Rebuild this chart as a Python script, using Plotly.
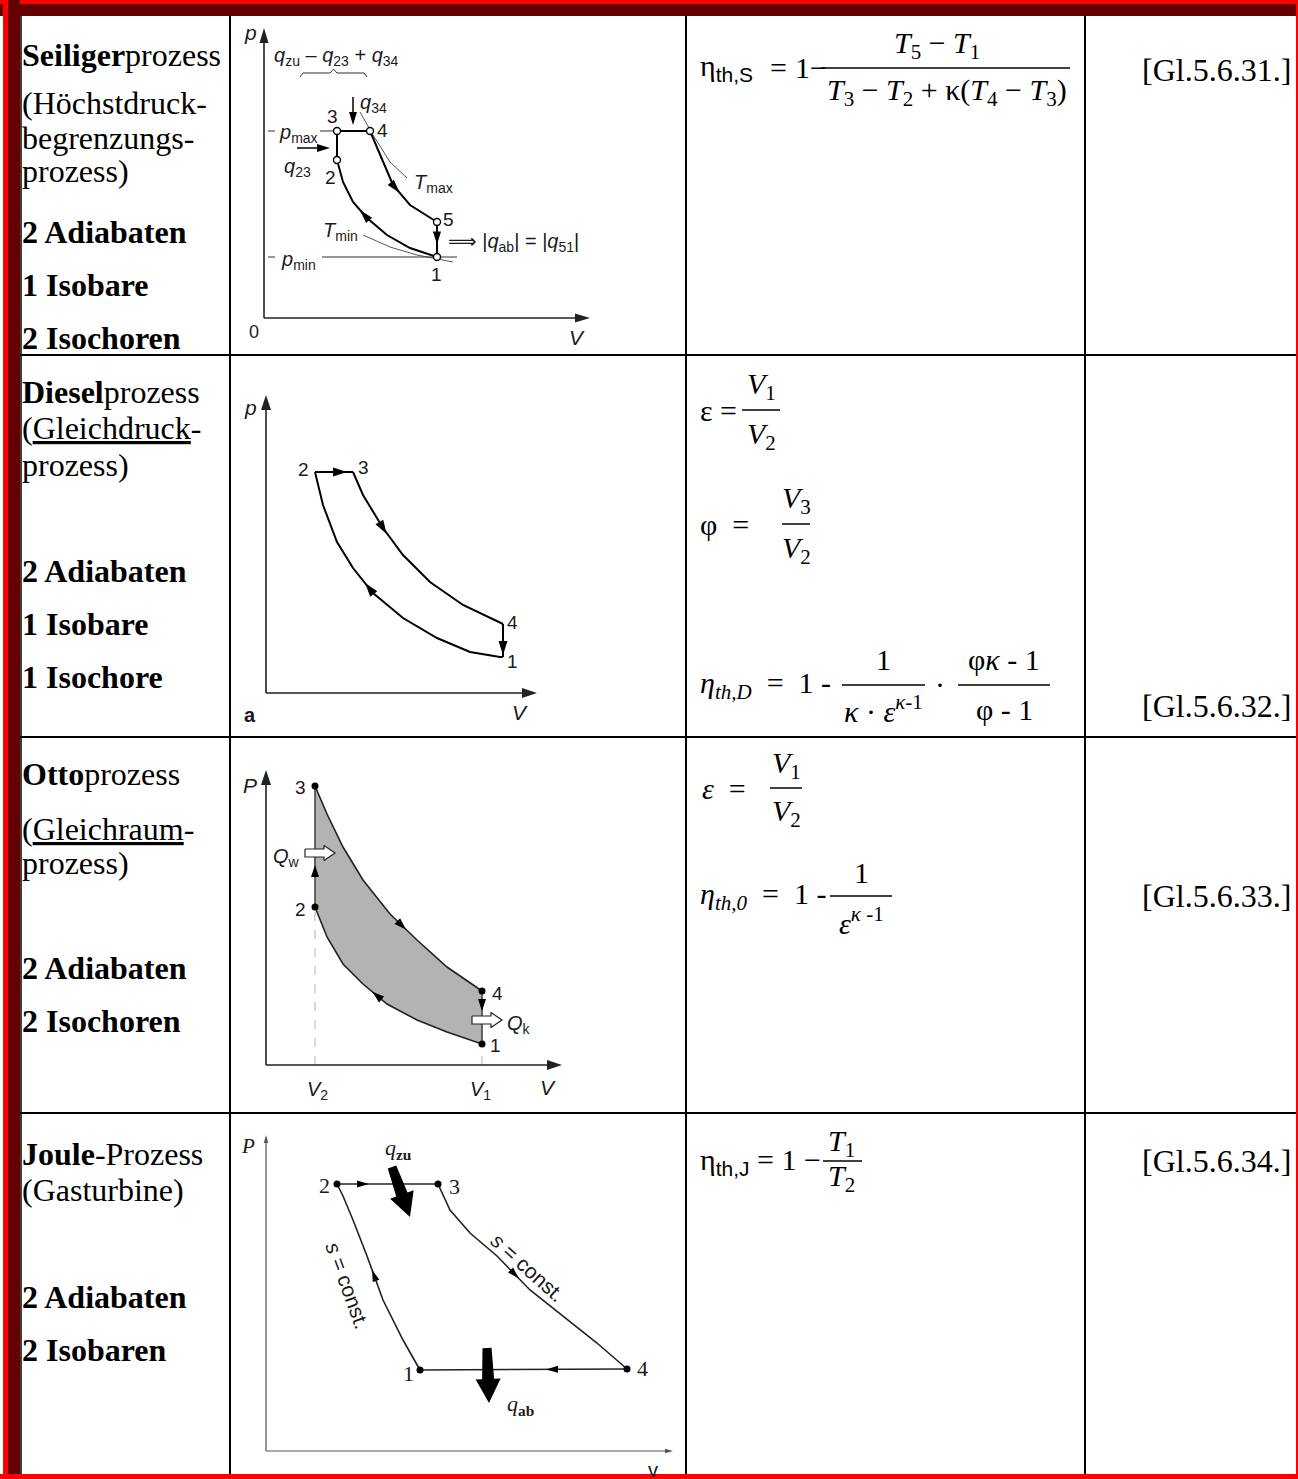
import math
import plotly.graph_objects as go

W, H = 1298, 1479
UNIT = 10.0  # pixels per diagram unit (same on V and p)
SERIF = "Liberation Serif, Times New Roman, serif"
SANS = "Liberation Sans, Arial, DejaVu Sans, sans-serif"

# ---------------- data (diagram units) ----------------
# Seiliger process
SEI_AXIS_TIPS = [32.6, 29.0]                       # V tip, p tip
SEI_STATE_LABELS = ["1", "2", "3", "4", "5"]
SEI_STATE_V = [17.3, 7.3, 7.3, 10.6, 17.3]
SEI_STATE_P = [6.1, 15.8, 18.7, 18.7, 9.6]
SEI_EXP_V = [10.6, 11.6, 12.9, 14.6, 17.3]          # 4 -> 5
SEI_EXP_P = [18.7, 16.3, 13.3, 11.3, 9.6]
SEI_CMP_V = [17.3, 14.6, 12.3, 10.3, 8.9, 7.9, 7.3]  # 1 -> 2
SEI_CMP_P = [6.1, 7.0, 8.3, 10.0, 11.6, 13.6, 15.8]
SEI_TMAX_V = [9.6, 10.9, 12.6, 14.3]
SEI_TMAX_P = [20.6, 18.3, 15.6, 14.0]
SEI_TMIN_V = [9.9, 12.6, 15.3, 18.9]
SEI_TMIN_P = [8.3, 7.1, 6.3, 5.6]

# Diesel process
DIE_AXIS_TIPS = [27.1, 29.8]
DIE_STATE_LABELS = ["1", "2", "3", "4"]
DIE_STATE_V = [23.7, 4.9, 8.7, 23.7]
DIE_STATE_P = [3.6, 22.1, 22.1, 6.9]
DIE_EXP_V = [8.7, 9.7, 11.7, 13.7, 16.4, 19.7, 23.7]  # 3 -> 4
DIE_EXP_P = [22.1, 19.8, 16.5, 13.8, 11.1, 8.8, 6.9]
DIE_CMP_V = [23.7, 23.4, 20.4, 17.1, 13.7, 10.7, 8.7, 7.1, 5.7, 4.9]  # 1 -> 2
DIE_CMP_P = [3.6, 3.6, 4.1, 5.5, 7.5, 10.0, 12.5, 15.1, 18.8, 22.1]

# Otto process
OTTO_AXIS_TIPS = [29.6, 29.5]
OTTO_STATE_LABELS = ["1", "2", "3", "4"]
OTTO_STATE_V = [21.6, 4.9, 4.9, 21.6]
OTTO_STATE_P = [2.1, 15.8, 27.9, 7.4]
OTTO_EXP_V = [4.9, 6.1, 7.7, 9.7, 12.4, 15.1, 18.1, 21.6]   # 3 -> 4
OTTO_EXP_P = [27.9, 25.1, 21.8, 18.5, 15.1, 12.5, 9.8, 7.4]
OTTO_CMP_V = [21.6, 18.1, 15.1, 12.1, 9.7, 7.7, 6.1, 4.9]   # 1 -> 2
OTTO_CMP_P = [2.1, 3.3, 4.5, 6.1, 8.1, 10.1, 12.8, 15.8]

# Joule process
JOU_AXIS_TIPS = [40.7, 31.6]
JOU_STATE_LABELS = ["1", "2", "3", "4"]
JOU_STATE_V = [15.4, 7.1, 17.2, 36.1]
JOU_STATE_P = [8.1, 26.7, 26.7, 8.2]
JOU_EXP_V = [17.2, 18.4, 20.4, 23.1, 26.4, 29.7, 33.1, 36.1]  # 3 -> 4
JOU_EXP_P = [26.7, 24.1, 21.8, 19.5, 16.1, 13.5, 10.8, 8.2]
JOU_CMP_V = [15.4, 13.7, 11.7, 10.1, 8.7, 7.7, 7.1]           # 1 -> 2
JOU_CMP_P = [8.1, 11.1, 15.1, 19.5, 23.1, 25.5, 26.7]

# text of the table
ROW_TITLES = [
    ["<b>Seiliger</b>prozess", "(Höchstdruck-", "begrenzungs-", "prozess)",
     "<b>2 Adiabaten</b>", "<b>1 Isobare</b>", "<b>2 Isochoren</b>"],
    ["<b>Diesel</b>prozess", "(<u>Gleichdruck</u>-", "prozess)",
     "<b>2 Adiabaten</b>", "<b>1 Isobare</b>", "<b>1 Isochore</b>"],
    ["<b>Otto</b>prozess", "(<u>Gleichraum</u>-", "prozess)",
     "<b>2 Adiabaten</b>", "<b>2 Isochoren</b>"],
    ["<b>Joule</b>-Prozess", "(Gasturbine)", "<b>2 Adiabaten</b>", "<b>2 Isobaren</b>"],
]
EQ_LABELS = ["[Gl.5.6.31.]", "[Gl.5.6.32.]", "[Gl.5.6.33.]", "[Gl.5.6.34.]"]

# ---------------- layout helpers ----------------
fig = go.Figure()
shapes, annotations = [], []


def px(x):
    return x / W


def py(y):
    return 1 - y / H


def rect(x0, y0, x1, y1, color):
    shapes.append(dict(type="rect", xref="paper", yref="paper", x0=px(x0), x1=px(x1),
                       y0=py(y1), y1=py(y0), fillcolor=color, line=dict(width=0), layer="above"))


def hline(x0, x1, y, w=2, color="black"):
    shapes.append(dict(type="line", xref="paper", yref="paper", x0=px(x0), x1=px(x1),
                       y0=py(y), y1=py(y), line=dict(color=color, width=w)))


def vline(x, y0, y1, w=2, color="black"):
    shapes.append(dict(type="line", xref="paper", yref="paper", x0=px(x), x1=px(x),
                       y0=py(y0), y1=py(y1), line=dict(color=color, width=w)))


def ptext(x, y, text, size=31, xanchor="left", font=SERIF, color="black"):
    annotations.append(dict(xref="paper", yref="paper", x=px(x), y=py(y), text=text,
                            showarrow=False, xanchor=xanchor, yanchor="middle",
                            font=dict(family=font, size=size, color=color)))


def dtext(k, V, p, text, size=19, font=SANS, xanchor="center", angle=0, color="#1a1a1a"):
    annotations.append(dict(xref=f"x{k}", yref=f"y{k}", x=V, y=p, text=text, showarrow=False,
                            xanchor=xanchor, yanchor="middle", textangle=angle,
                            font=dict(family=font, size=size, color=color)))


def line(k, V, P, width=2.0, color="black", dash=None):
    fig.add_trace(go.Scatter(x=V, y=P, xaxis=f"x{k}", yaxis=f"y{k}", mode="lines",
                             line=dict(width=width, color=color, dash=dash),
                             hoverinfo="skip", showlegend=False))


def poly(k, pts, fill, outline=None, lw=0):
    fig.add_trace(go.Scatter(x=[q[0] for q in pts], y=[q[1] for q in pts],
                             xaxis=f"x{k}", yaxis=f"y{k}", mode="lines", fill="toself",
                             fillcolor=fill, line=dict(width=lw, color=outline or fill),
                             hoverinfo="skip", showlegend=False))


def head(k, tip, d, L=1.4, Wd=0.9, color="black"):
    n = math.hypot(d[0], d[1])
    ux, uy = d[0] / n, d[1] / n
    bx, by = tip[0] - ux * L, tip[1] - uy * L
    nx, ny = -uy, ux
    poly(k, [tip, (bx + nx * Wd / 2, by + ny * Wd / 2), (bx - nx * Wd / 2, by - ny * Wd / 2), tip], color)


def mid_arrow(k, Vs, Ps, at, L=1.4, Wd=0.9, color="black"):
    best = None
    for i in range(len(Vs) - 1):
        ax, ay, bx, by = Vs[i], Ps[i], Vs[i + 1], Ps[i + 1]
        dx, dy = bx - ax, by - ay
        l2 = dx * dx + dy * dy
        t = max(0.0, min(1.0, ((at[0] - ax) * dx + (at[1] - ay) * dy) / l2))
        qx, qy = ax + t * dx, ay + t * dy
        dist = (qx - at[0]) ** 2 + (qy - at[1]) ** 2
        if best is None or dist < best[0]:
            best = (dist, qx, qy, dx, dy)
    _, qx, qy, dx, dy = best
    n = math.hypot(dx, dy)
    ux, uy = dx / n, dy / n
    head(k, (qx + ux * L / 2, qy + uy * L / 2), (ux, uy), L, Wd, color)


def fat_arrow(k, tail, tip, sw, hw, hl, fill, outline=None, lw=0, sw_tail=None):
    dx, dy = tip[0] - tail[0], tip[1] - tail[1]
    n = math.hypot(dx, dy)
    ux, uy = dx / n, dy / n
    nx, ny = -uy, ux
    hb = (tip[0] - ux * hl, tip[1] - uy * hl)
    st = sw if sw_tail is None else sw_tail
    pts = [(tail[0] + nx * st / 2, tail[1] + ny * st / 2), (hb[0] + nx * sw / 2, hb[1] + ny * sw / 2),
           (hb[0] + nx * hw / 2, hb[1] + ny * hw / 2), tip,
           (hb[0] - nx * hw / 2, hb[1] - ny * hw / 2), (hb[0] - nx * sw / 2, hb[1] - ny * sw / 2),
           (tail[0] - nx * st / 2, tail[1] - ny * st / 2)]
    pts.append(pts[0])
    poly(k, pts, fill, outline, lw)


def axes_lines(k, tips, L, Wd, color="#222", width=1.6):
    line(k, [0, tips[0] - L * 0.6], [0, 0], width, color)
    line(k, [0, 0], [0, tips[1] - L * 0.6], width, color)
    head(k, (tips[0], 0), (1, 0), L, Wd, color)
    head(k, (0, tips[1]), (0, 1), L, Wd, color)


# ---------------- diagram sub-axes ----------------
CELLS = [(231, 17, 685, 354), (231, 356, 685, 736), (231, 738, 685, 1112), (231, 1114, 685, 1473)]
ORIGINS = [(264, 318), (266, 693), (266, 1065), (266, 1451)]
axis_layout = {}
for i, ((cx0, cy0, cx1, cy1), (ox, oy)) in enumerate(zip(CELLS, ORIGINS)):
    k = i + 2
    axis_layout[f"xaxis{k}"] = dict(domain=[px(cx0), px(cx1)], range=[(cx0 - ox) / UNIT, (cx1 - ox) / UNIT],
                                    visible=False, anchor=f"y{k}", fixedrange=True)
    axis_layout[f"yaxis{k}"] = dict(domain=[py(cy1), py(cy0)], range=[(oy - cy1) / UNIT, (oy - cy0) / UNIT],
                                    visible=False, anchor=f"x{k}", fixedrange=True)

# ---------- Seiliger (k=2) ----------
k = 2
axes_lines(k, SEI_AXIS_TIPS, 1.5, 0.9)
sv = dict(zip(SEI_STATE_LABELS, SEI_STATE_V))
sp = dict(zip(SEI_STATE_LABELS, SEI_STATE_P))
line(k, SEI_TMAX_V, SEI_TMAX_P, 1, "#555")
line(k, SEI_TMIN_V, SEI_TMIN_P, 1, "#555")
line(k, [0.4, 1.1], [sp["3"]] * 2, 1, "#333")
line(k, [5.6, sv["3"]], [sp["3"]] * 2, 1, "#333")
line(k, [0.4, 1.1], [sp["1"]] * 2, 1, "#333")
line(k, [5.8, 19.3], [sp["1"]] * 2, 1, "#333")
line(k, [sv["2"], sv["3"]], [sp["2"], sp["3"]], 2)
line(k, [sv["3"], sv["4"]], [sp["3"], sp["4"]], 2.2)
line(k, SEI_EXP_V, SEI_EXP_P, 2)
line(k, [sv["5"], sv["1"]], [sp["5"], sp["1"]], 2)
line(k, SEI_CMP_V, SEI_CMP_P, 2)
mid_arrow(k, SEI_EXP_V, SEI_EXP_P, (13.1, 13.0), 1.4, 0.8)
mid_arrow(k, SEI_CMP_V, SEI_CMP_P, (10.3, 10.5), 1.4, 0.8)
mid_arrow(k, [sv["5"], sv["1"]], [sp["5"], sp["1"]], (17.3, 8.0), 1.3, 0.8)
line(k, [8.9, 8.9], [22.1, 20.3], 1.5)
head(k, (8.9, 19.3), (0, -1), 1.3, 0.8)
line(k, [3.3, 5.6], [17.0, 17.0], 1.5)
head(k, (6.6, 17.0), (1, 0), 1.3, 0.8)
line(k, [3.6, 3.9, 6.6, 6.95, 7.3, 10.0, 10.3], [24.1, 24.5, 24.5, 24.9, 24.5, 24.5, 24.1], 1, "#333")
fig.add_trace(go.Scatter(x=SEI_STATE_V, y=SEI_STATE_P, xaxis="x2", yaxis="y2", mode="markers",
                         marker=dict(symbol="circle", size=7, color="white", line=dict(width=1.4, color="black")),
                         hoverinfo="skip", showlegend=False))
dtext(k, -1.4, 28.5, "<i>p</i>", 21)
dtext(k, -1.0, -1.4, "0", 18)
dtext(k, 31.3, -1.9, "<i>V</i>", 21)
dtext(k, 7.2, 26.1, "<i>q</i><sub>zu</sub> – <i>q</i><sub>23</sub> + <i>q</i><sub>34</sub>", 20)
dtext(k, 9.4, 21.4, "<i>q</i><sub>34</sub>", 20, xanchor="left")
dtext(k, 3.4, 18.4, "<i>p</i><sub>max</sub>", 20)
dtext(k, 3.3, 15.0, "<i>q</i><sub>23</sub>", 20)
dtext(k, 16.9, 13.4, "<i>T</i><sub>max</sub>", 20)
dtext(k, 7.6, 8.6, "<i>T</i><sub>min</sub>", 20)
dtext(k, 3.4, 5.8, "<i>p</i><sub>min</sub>", 20)
dtext(k, 18.2, 7.5, "⟹ |<i>q</i><sub>ab</sub>| = |<i>q</i><sub>51</sub>|", 20, xanchor="left")
for lab, dv, dp in [("1", -0.1, -1.7), ("2", -0.7, -1.8), ("3", -0.5, 1.4), ("4", 1.2, 0.0), ("5", 1.1, 0.2)]:
    dtext(k, sv[lab] + dv, sp[lab] + dp, lab, 19)

# ---------- Diesel (k=3) ----------
k = 3
axes_lines(k, DIE_AXIS_TIPS, 1.5, 1.0)
dv_ = dict(zip(DIE_STATE_LABELS, DIE_STATE_V))
dp_ = dict(zip(DIE_STATE_LABELS, DIE_STATE_P))
line(k, [dv_["2"], dv_["3"]], [dp_["2"], dp_["3"]], 2)
line(k, DIE_EXP_V, DIE_EXP_P, 2)
line(k, [dv_["4"], dv_["1"]], [dp_["4"], dp_["1"]], 2)
line(k, DIE_CMP_V, DIE_CMP_P, 2)
mid_arrow(k, [dv_["2"], dv_["3"]], [dp_["2"], dp_["3"]], (7.4, 22.1), 1.4, 0.9)
mid_arrow(k, DIE_EXP_V, DIE_EXP_P, (11.7, 16.5), 1.4, 0.9)
mid_arrow(k, DIE_CMP_V, DIE_CMP_P, (10.4, 10.5), 1.4, 0.9)
mid_arrow(k, [dv_["4"], dv_["1"]], [dp_["4"], dp_["1"]], (23.7, 4.5), 1.4, 0.9)
dtext(k, -1.6, 28.5, "<i>p</i>", 21)
dtext(k, -1.6, -2.2, "<b>a</b>", 20)
dtext(k, 25.4, -2.0, "<i>V</i>", 21)
for lab, ddv, ddp in [("1", 0.9, -0.5), ("2", -1.2, 0.2), ("3", 1.0, 0.4), ("4", 0.9, 0.1)]:
    dtext(k, dv_[lab] + ddv, dp_[lab] + ddp, lab, 19)

# ---------- Otto (k=4) ----------
k = 4
ov = dict(zip(OTTO_STATE_LABELS, OTTO_STATE_V))
op = dict(zip(OTTO_STATE_LABELS, OTTO_STATE_P))
cyc = list(zip(OTTO_EXP_V, OTTO_EXP_P)) + list(zip(OTTO_CMP_V, OTTO_CMP_P)) + [(ov["3"], op["3"])]
poly(k, cyc, "#b3b3b3")
line(k, [ov["2"], ov["2"]], [0, op["2"]], 1.3, "#c4c4c4", "dash")
line(k, [ov["1"], ov["1"]], [0, op["1"]], 1.3, "#c4c4c4", "dash")
axes_lines(k, OTTO_AXIS_TIPS, 1.5, 1.0)
line(k, OTTO_EXP_V, OTTO_EXP_P, 1.6, "#222")
line(k, OTTO_CMP_V, OTTO_CMP_P, 1.6, "#222")
line(k, [ov["2"], ov["3"]], [op["2"], op["3"]], 1.6, "#444")
line(k, [ov["4"], ov["1"]], [op["4"], op["1"]], 1.6, "#444")
mid_arrow(k, [ov["2"], ov["3"]], [op["2"], op["3"]], (4.9, 19.4), 1.2, 0.8)
mid_arrow(k, OTTO_EXP_V, OTTO_EXP_P, (13.2, 13.6), 1.2, 0.8)
mid_arrow(k, OTTO_CMP_V, OTTO_CMP_P, (11.4, 7.3), 1.2, 0.8)
mid_arrow(k, [ov["4"], ov["1"]], [op["4"], op["1"]], (21.6, 6.0), 1.2, 0.8)
fat_arrow(k, (3.9, 21.2), (6.9, 21.2), 0.8, 1.5, 1.1, "white", "#222", 1.2)
fat_arrow(k, (20.6, 4.5), (23.6, 4.5), 0.8, 1.5, 1.1, "white", "#222", 1.2)
fig.add_trace(go.Scatter(x=OTTO_STATE_V, y=OTTO_STATE_P, xaxis="x4", yaxis="y4", mode="markers",
                         marker=dict(size=7, color="black"), hoverinfo="skip", showlegend=False))
dtext(k, -1.6, 28.0, "<i>P</i>", 21)
dtext(k, 2.0, 20.8, "<i>Q</i><sub>w</sub>", 20)
dtext(k, 25.3, 4.1, "<i>Q</i><sub>k</sub>", 20)
dtext(k, 5.1, -2.5, "<i>V</i><sub>2</sub>", 20)
dtext(k, 21.4, -2.5, "<i>V</i><sub>1</sub>", 20)
dtext(k, 28.2, -2.2, "<i>V</i>", 21)
for lab, odv, odp in [("1", 1.3, -0.1), ("2", -1.5, -0.2), ("3", -1.5, -0.1), ("4", 1.5, -0.2)]:
    dtext(k, ov[lab] + odv, op[lab] + odp, lab, 19)

# ---------- Joule (k=5) ----------
k = 5
jv = dict(zip(JOU_STATE_LABELS, JOU_STATE_V))
jp = dict(zip(JOU_STATE_LABELS, JOU_STATE_P))
axes_lines(k, JOU_AXIS_TIPS, 0.8, 0.45, "#555", 1.2)
line(k, [jv["2"], jv["3"]], [jp["2"], jp["3"]], 1.6, "#222")
line(k, JOU_EXP_V, JOU_EXP_P, 1.6, "#222")
line(k, [jv["4"], jv["1"]], [jp["4"], jp["1"]], 1.6, "#222")
line(k, JOU_CMP_V, JOU_CMP_P, 1.6, "#222")
mid_arrow(k, [jv["2"], jv["3"]], [jp["2"], jp["3"]], (9.7, 26.7), 1.2, 0.7)
mid_arrow(k, JOU_EXP_V, JOU_EXP_P, (24.7, 17.5), 1.2, 0.7)
mid_arrow(k, [jv["4"], jv["1"]], [jp["4"], jp["1"]], (28.6, 8.1), 1.2, 0.7)
mid_arrow(k, JOU_CMP_V, JOU_CMP_P, (10.6, 17.5), 1.2, 0.7)
fat_arrow(k, (12.6, 28.4), (14.4, 23.4), 1.2, 2.5, 2.4, "black", sw_tail=0.9)
fat_arrow(k, (22.1, 10.3), (22.3, 4.8), 1.2, 2.5, 2.4, "black", sw_tail=0.9)
fig.add_trace(go.Scatter(x=JOU_STATE_V, y=JOU_STATE_P, xaxis="x5", yaxis="y5", mode="markers",
                         marker=dict(size=7, color="black"), hoverinfo="skip", showlegend=False))
dtext(k, -1.8, 30.5, "<i>P</i>", 21, SERIF)
dtext(k, 38.7, -1.9, "v", 20, SANS)
dtext(k, 13.2, 30.2, "<i>q</i><sub><b>zu</b></sub>", 22, SERIF)
dtext(k, 25.4, 4.6, "<i>q</i><sub><b>ab</b></sub>", 22, SERIF)
dtext(k, 8.2, 16.6, "<i>s</i> = const.", 21, SANS, angle=70)
dtext(k, 26.2, 18.4, "<i>s</i> = const.", 21, SANS, angle=42)
for lab, jdv, jdp in [("1", -1.2, -0.3), ("2", -1.3, -0.1), ("3", 1.6, -0.2), ("4", 1.5, 0.1)]:
    dtext(k, jv[lab] + jdv, jp[lab] + jdp, lab, 22, SERIF)

# ---------------- table frame ----------------
rect(0, 0, W, 4, "#ff0000")
rect(0, 4, W, 16, "#640000")
rect(3, 0, 8, H, "#ff0000")
rect(8, 0, 20, H, "#640000")
rect(0, 1474, W, H, "#ff0000")
rect(1296, 0, W, H, "#ff0000")
vline(21, 16, 1474, 1.5)
for x in [230, 686, 1085]:
    vline(x, 16, 1474, 2)
for y in [355, 737, 1113]:
    hline(20, 1296, y, 2)

# ---------------- column 1 text ----------------
ROW_LINE_Y = [
    [55, 103, 138, 171, 232, 285, 338],
    [392, 428, 465, 571, 624, 677],
    [774, 829, 863, 968, 1021],
    [1154, 1190, 1297, 1350],
]
for texts, ys in zip(ROW_TITLES, ROW_LINE_Y):
    for t, y in zip(texts, ys):
        ptext(20, y, t, 32)

# ---------------- formulas ----------------
SUBS = "<span style='font-family:Liberation Sans'>{}</span>"
# row 1
ptext(698, 68, "η<sub>" + SUBS.format("th,S") + "</sub>", 30)
ptext(778, 68, "=", 30, "center")
ptext(793, 68, "1−", 30)
hline(821, 1070, 68, 1.5)
ptext(937, 45, "<i>T</i><sub>5</sub> − <i>T</i><sub>1</sub>", 30, "center")
ptext(947, 92, "<i>T</i><sub>3</sub> − <i>T</i><sub>2</sub> + κ(<i>T</i><sub>4</sub> − <i>T</i><sub>3</sub>)", 30, "center")
# row 2
ptext(698, 410, "ε =", 30)
hline(742, 780, 410, 1.5)
ptext(761, 386, "<i>V</i><sub>1</sub>", 30, "center")
ptext(761, 436, "<i>V</i><sub>2</sub>", 30, "center")
ptext(698, 524, "φ  =", 30)
hline(782, 810, 524, 1.5)
ptext(796, 500, "<i>V</i><sub>3</sub>", 30, "center")
ptext(796, 550, "<i>V</i><sub>2</sub>", 30, "center")
ptext(698, 685, "<i>η<sub>th,D</sub></i>  =  1 -", 30)
hline(842, 925, 685, 1.5)
ptext(883, 660, "1", 30, "center")
ptext(883, 709, "<i>κ</i> · <i>ε</i><sup><i>κ</i>-1</sup>", 30, "center")
ptext(940, 685, "·", 30, "center")
hline(958, 1050, 685, 1.5)
ptext(1004, 660, "φ<i>κ</i> - 1", 30, "center")
ptext(1004, 709, "φ - 1", 30, "center")
# row 3
ptext(700, 788, "<i>ε</i>  =", 30)
hline(770, 802, 788, 1.5)
ptext(786, 765, "<i>V</i><sub>1</sub>", 30, "center")
ptext(786, 813, "<i>V</i><sub>2</sub>", 30, "center")
ptext(698, 896, "<i>η<sub>th,0</sub></i>  =  1 -", 30)
hline(830, 892, 896, 1.5)
ptext(861, 872, "1", 30, "center")
ptext(861, 921, "<i>ε</i><sup><i>κ</i> -1</sup>", 30, "center")
# row 4
ptext(698, 1161, "η<sub>" + SUBS.format("th,J") + "</sub> = 1 −", 30)
hline(823, 862, 1161, 1.5)
ptext(842, 1143, "<i>T</i><sub>1</sub>", 30, "center")
ptext(842, 1178, "<i>T</i><sub>2</sub>", 30, "center")

# equation labels
for lab, y in zip(EQ_LABELS, [70, 706, 896, 1161]):
    ptext(1140, y, lab, 32)

fig.update_layout(
    width=W, height=H, autosize=False,
    margin=dict(l=0, r=0, t=0, b=0),
    paper_bgcolor="white", plot_bgcolor="rgba(0,0,0,0)",
    xaxis=dict(visible=False), yaxis=dict(visible=False),
    shapes=shapes, annotations=annotations, showlegend=False,
    **axis_layout,
)
fig.write_html("out.html", config={"displayModeBar": False},
               post_script="document.body.style.margin='0px';document.body.style.padding='0px';"
                           "document.body.style.overflow='hidden';")
